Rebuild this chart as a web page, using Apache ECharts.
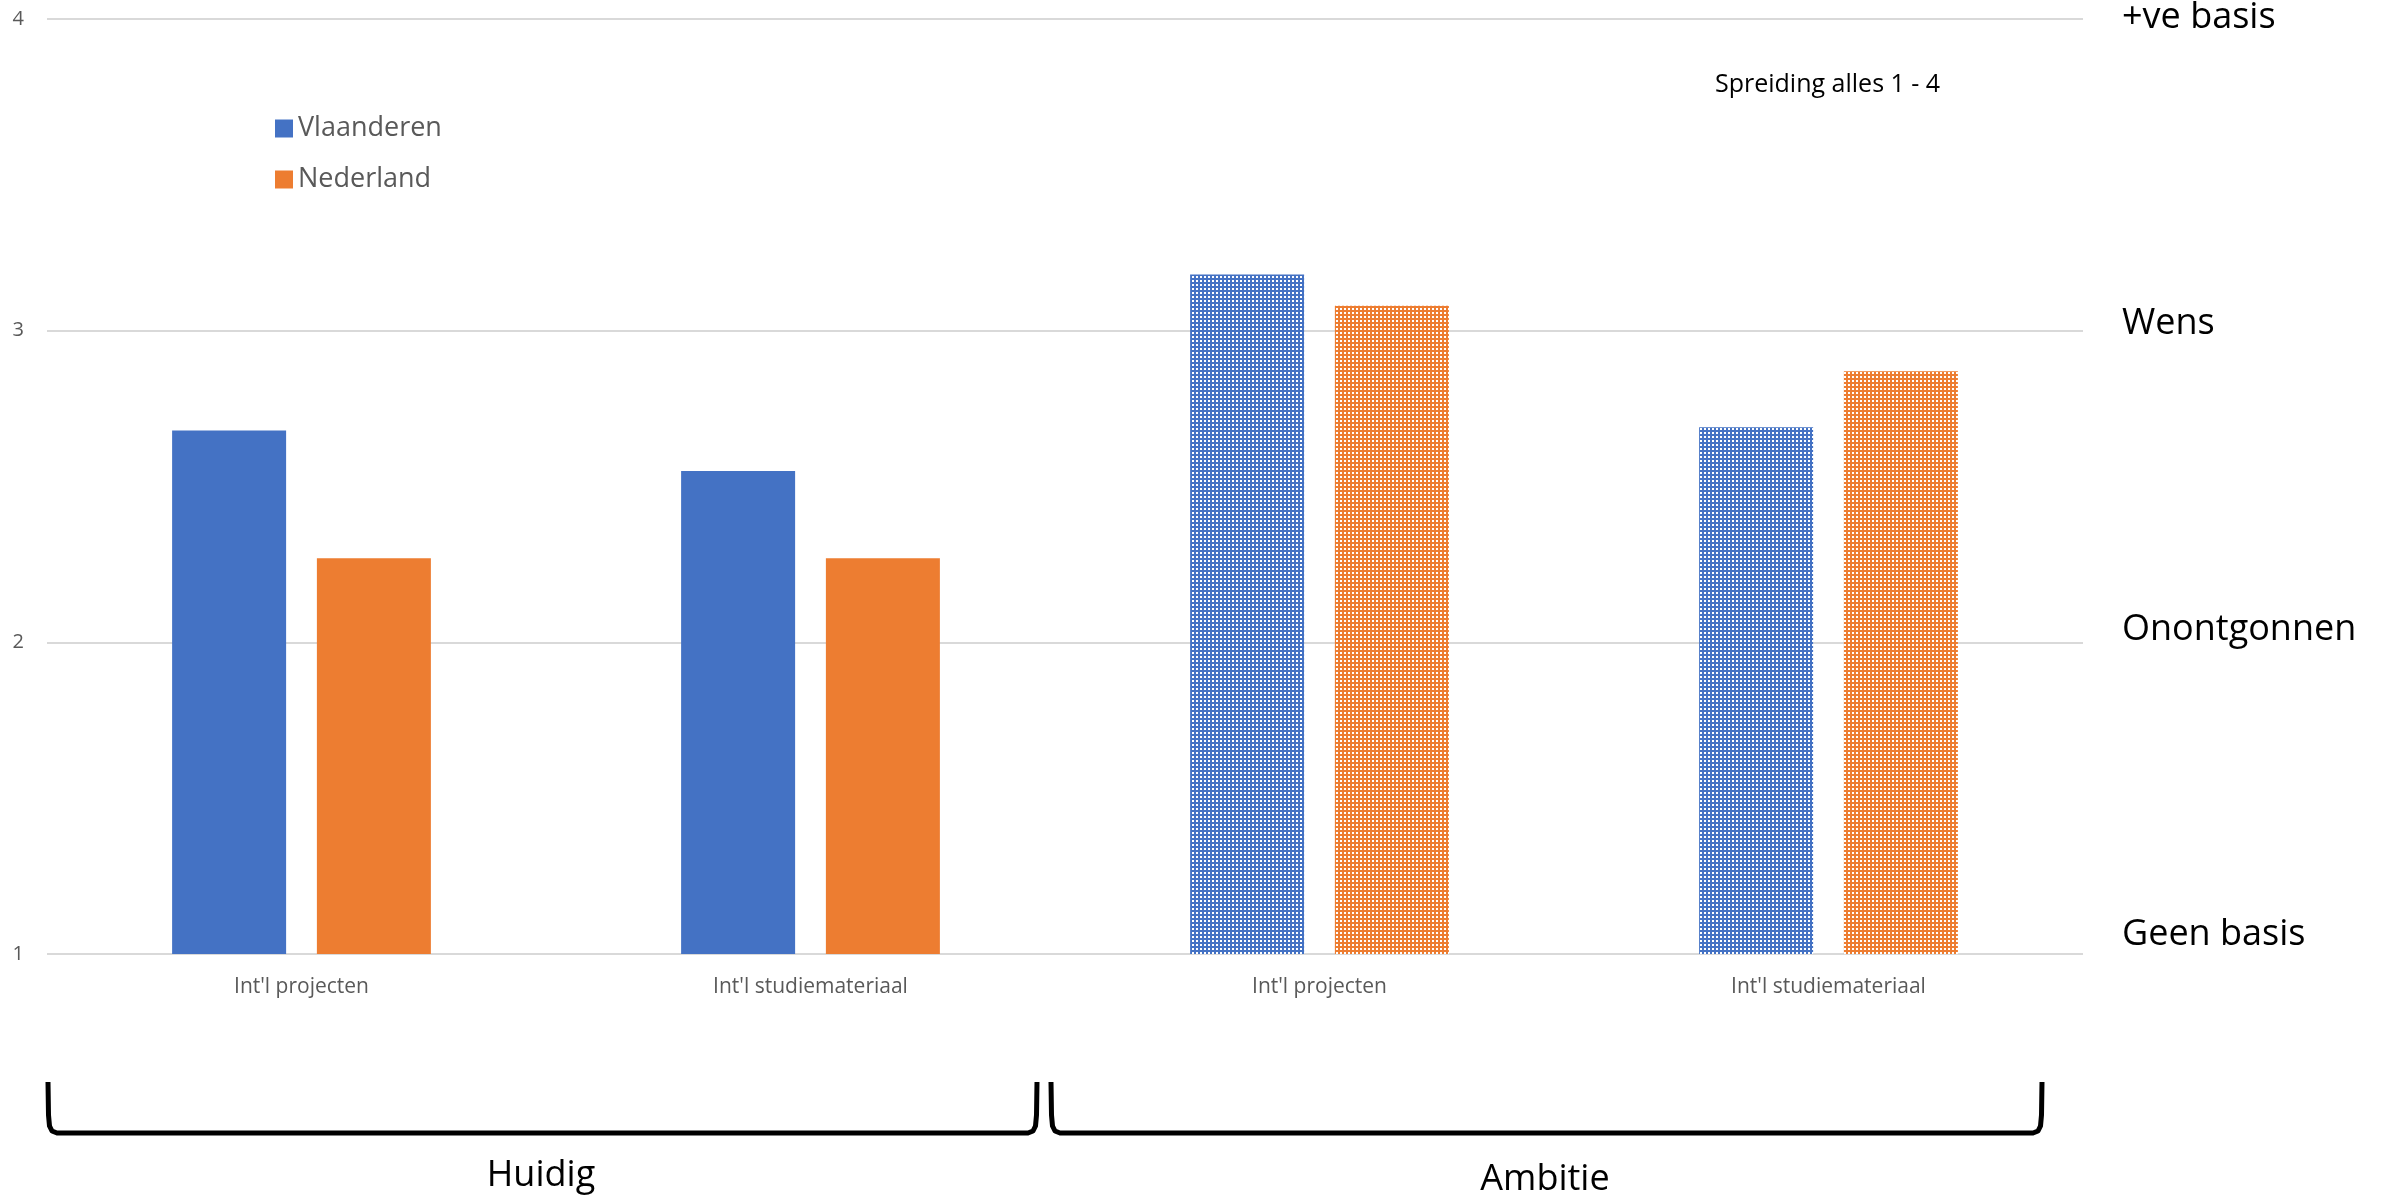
<!DOCTYPE html>
<html>
<head>
<meta charset="utf-8">
<script src="https://cdn.jsdelivr.net/npm/echarts@6/dist/echarts.min.js"></script>
<style>
html,body{margin:0;padding:0;background:#fff;}
#chart{width:2384px;height:1196px;}
</style>
</head>
<body>
<div id="chart"></div>
<script>
const categories = ["Int'l projecten", "Int'l studiemateriaal", "Int'l projecten", "Int'l studiemateriaal"];
const seriesNames = ["Vlaanderen", "Nederland"];
const vlaanderen = [2.68, 2.55, 3.18, 2.69];
const nederland = [2.27, 2.27, 3.08, 2.87];
const patterned = [false, false, true, true];
const rightLabels = ["Geen basis", "Onontgonnen", "Wens", "+ve basis"];
const groupLabels = ["Huidig", "Ambitie"];
const noteText = "Spreiding alles 1 - 4";

const FONT = "'Open Sans', 'Noto Sans', sans-serif";
const colors = ["#4472C4", "#ED7D31"];

function makePattern(color) {
  const c = document.createElement('canvas');
  c.width = 4; c.height = 4;
  const ctx = c.getContext('2d');
  ctx.fillStyle = color;
  ctx.fillRect(0, 0, 4, 4);
  ctx.fillStyle = '#ffffff';
  ctx.fillRect(0, 0, 2, 2);
  return { image: c, repeat: 'repeat' };
}

function buildData(values, color) {
  const pat = makePattern(color);
  return values.map((v, i) => patterned[i] ? { value: v, itemStyle: { color: pat } } : v);
}

const chart = echarts.init(document.getElementById('chart'), null, { renderer: 'canvas' });

const padBottom = [38, 26, 14, 2];
const rich = {};
rightLabels.forEach((t, i) => {
  rich['r' + i] = { fontSize: 36, fontFamily: FONT, color: '#000000', padding: [0, 0, padBottom[i], 0] };
});

function bracePoints(x0, x1, yTop, yBot) {
  return [
    [x0, yTop], [x0 + 0.5, yBot - 18], [x0 + 1.5, yBot - 7], [x0 + 4, yBot - 2], [x0 + 9, yBot],
    [x1 - 9, yBot], [x1 - 4, yBot - 2], [x1 - 1.5, yBot - 7], [x1 - 0.5, yBot - 18], [x1, yTop]
  ];
}

const option = {
  animation: false,
  backgroundColor: '#ffffff',
  textStyle: { fontFamily: FONT },
  grid: { left: 47, right: 301, top: 15, bottom: 242, containLabel: false },
  legend: {
    data: seriesNames,
    orient: 'vertical',
    left: 270,
    top: 110,
    padding: 5,
    icon: 'rect',
    itemWidth: 18,
    itemHeight: 18,
    itemGap: 24,
    textStyle: { fontSize: 27, color: '#595959', fontFamily: FONT }
  },
  xAxis: {
    type: 'category',
    data: categories,
    axisLine: { show: false },
    axisTick: { show: false },
    axisLabel: { fontSize: 21, color: '#595959', margin: 23, fontFamily: FONT, interval: 0 }
  },
  yAxis: [
    {
      type: 'value',
      min: 1, max: 4, interval: 1,
      axisLine: { show: false },
      axisTick: { show: false },
      splitLine: { show: true, lineStyle: { color: '#d9d9d9', width: 2 } },
      axisLabel: { fontSize: 20, color: '#595959', margin: 23, fontFamily: FONT }
    },
    {
      type: 'value',
      position: 'right',
      min: 1, max: 4, interval: 1,
      axisLine: { show: false },
      axisTick: { show: false },
      splitLine: { show: false },
      axisLabel: {
        margin: 39,
        align: 'left',
        formatter: function (v) {
          const i = Math.round(v) - 1;
          return '{r' + i + '|' + rightLabels[i] + '}';
        },
        rich: rich
      }
    }
  ],
  series: [
    {
      name: seriesNames[0],
      type: 'bar',
      barWidth: 114,
      barGap: '27%',
      itemStyle: { color: colors[0] },
      data: buildData(vlaanderen, colors[0])
    },
    {
      name: seriesNames[1],
      type: 'bar',
      barWidth: 114,
      barGap: '27%',
      itemStyle: { color: colors[1] },
      data: buildData(nederland, colors[1])
    }
  ],
  graphic: [
    {
      type: 'text', x: 1715, y: 85,
      style: { text: noteText, fontSize: 25, fontFamily: FONT, fill: '#000000', verticalAlign: 'middle', align: 'left' }
    },
    {
      type: 'polyline',
      shape: { points: bracePoints(48, 1037, 1082, 1133) },
      style: { stroke: '#000000', lineWidth: 5, fill: null, lineJoin: 'round', lineCap: 'butt' }
    },
    {
      type: 'polyline',
      shape: { points: bracePoints(1051, 2042, 1082, 1133) },
      style: { stroke: '#000000', lineWidth: 5, fill: null, lineJoin: 'round', lineCap: 'butt' }
    },
    {
      type: 'text', x: 541, y: 1176,
      style: { text: groupLabels[0], fontSize: 36, fontFamily: FONT, fill: '#000000', align: 'center', verticalAlign: 'middle' }
    },
    {
      type: 'text', x: 1545, y: 1180,
      style: { text: groupLabels[1], fontSize: 36, fontFamily: FONT, fill: '#000000', align: 'center', verticalAlign: 'middle' }
    }
  ]
};

chart.setOption(option);
</script>
</body>
</html>
